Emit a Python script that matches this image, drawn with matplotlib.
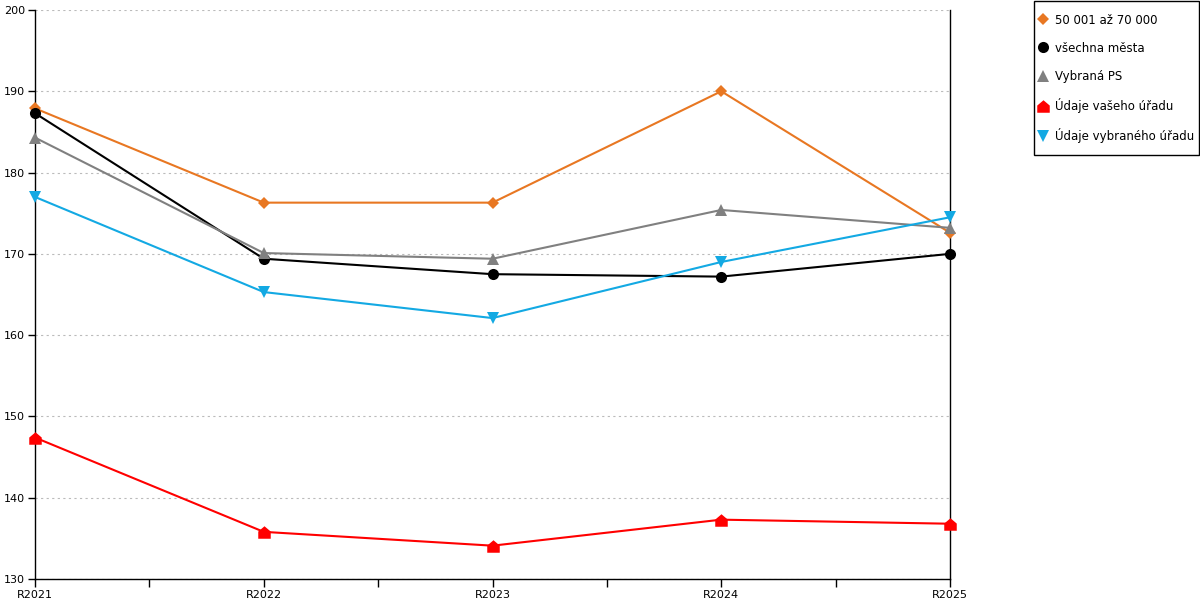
import matplotlib
matplotlib.use("Agg")
import matplotlib.pyplot as plt
from matplotlib.path import Path
from matplotlib.lines import Line2D
from matplotlib.patches import Rectangle

categories = ["R2021", "R2022", "R2023", "R2024", "R2025"]
s_50_70 = [187.9, 176.3, 176.3, 190.0, 172.6]
s_vsechna = [187.3, 169.4, 167.5, 167.2, 170.0]
s_vybrana_ps = [184.3, 170.1, 169.4, 175.4, 173.2]
s_vaseho = [147.4, 135.8, 134.1, 137.3, 136.8]
s_vybraneho = [177.0, 165.3, 162.1, 169.0, 174.5]
labels = ["50 001 až 70 000", "všechna města", "Vybraná PS", "Údaje vašeho úřadu", "Údaje vybraného úřadu"]
yticks = [130, 140, 150, 160, 170, 180, 190, 200]

house = Path([(-1, -1), (1, -1), (1, 0.15), (0, 1), (-1, 0.15), (-1, -1)],
             [Path.MOVETO, Path.LINETO, Path.LINETO, Path.LINETO, Path.LINETO, Path.CLOSEPOLY])

series = [
    (s_50_70, "#E87722", "D", 6),
    (s_vsechna, "#000000", "o", 8),
    (s_vybrana_ps, "#808080", "^", 9),
    (s_vaseho, "#FF0000", house, 9),
    (s_vybraneho, "#13A9E3", "v", 9),
]

plt.rcParams['font.family'] = ['DejaVu Sans']
fig = plt.figure(figsize=(12, 6), dpi=100)
ax = fig.add_axes([35/1200, 1-579/600, (950-35)/1200, (579-10)/600])
x = list(range(len(categories)))
handles = []
for (vals, col, mk, ms), lab in zip(series, labels):
    ax.plot(x, vals, color=col, lw=1.5, marker=mk, markersize=ms, markeredgewidth=0,
            label=lab, clip_on=False, zorder=3)
    handles.append(Line2D([], [], color=col, marker=mk, markersize=ms, lw=0, markeredgewidth=0))

ax.set_xlim(0, 4)
ax.set_ylim(130, 200)
ax.set_yticks(yticks)
ax.set_xticks(x)
ax.set_xticklabels(categories)
ax.set_xticks([0.5, 1.5, 2.5, 3.5], minor=True)
ax.tick_params(axis='x', which='both', direction='out', length=6, width=1, labelsize=8, pad=2)
ax.tick_params(axis='y', direction='out', length=5, width=1, labelsize=8, pad=2)
ax.yaxis.grid(True, linestyle=(0, (2, 3)), color="#bbbbbb", lw=0.8)
ax.set_axisbelow(True)
for side in ["left", "bottom", "right"]:
    ax.spines[side].set_color("black")
    ax.spines[side].set_linewidth(1)
ax.spines["top"].set_visible(False)

fig.patches.append(Rectangle((1034/1200, 1-155/600), (1199-1034)/1200, (155-1)/600,
                             transform=fig.transFigure, fill=False, edgecolor="black", lw=1))
leg = fig.legend(handles, labels, loc="upper left", bbox_to_anchor=(1038/1200, 1-13.5/600),
                 frameon=False, fontsize=8.5, labelspacing=1.28,
                 handlelength=0.8, handletextpad=0.6, borderpad=0, borderaxespad=0)

fig.savefig("out.png", dpi=100)
